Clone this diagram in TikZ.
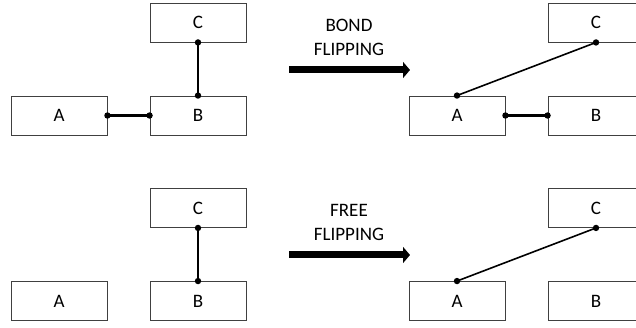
\documentclass[tikz,border=0pt]{standalone}
\usepackage{fontspec}
\setmainfont{Carlito}
\usetikzlibrary{arrows.meta}
\begin{document}
\begin{tikzpicture}[x=1pt,y=-1pt,
  box/.style={draw=black!75,line width=0.9pt,minimum width=96pt,minimum height=39pt,inner sep=0pt,font=\fontsize{19}{24}\selectfont},
  bond/.style={line width=2.2pt},
  flipbond/.style={line width=1.6pt},
  dot/.style={fill=black},
  bigarrow/.style={line width=7pt,-{Triangle[length=7pt,width=16pt]}},
  lbl/.style={align=center,font=\fontsize{19}{24}\selectfont,inner sep=0pt}]
\useasboundingbox (0,0) rectangle (636,328);
% top left
\node[box] (A1) at (59,115.5) {A};
\node[box] (B1) at (198,115.5) {B};
\node[box] (C1) at (198,22.5) {C};
% top right
\node[box] (A2) at (457,115.5) {A};
\node[box] (B2) at (596,115.5) {B};
\node[box] (C2) at (596,22.5) {C};
% bottom left
\node[box] (A3) at (59,301) {A};
\node[box] (B3) at (198,301) {B};
\node[box] (C3) at (198,208) {C};
% bottom right
\node[box] (A4) at (457,301) {A};
\node[box] (B4) at (596,301) {B};
\node[box] (C4) at (596,208) {C};
% bonds
\draw[bond] (A1.east) -- (B1.west);
\draw[bond] (B1.north) -- (C1.south);
\draw[bond] (A2.east) -- (B2.west);
\draw[flipbond] (A2.north) -- (C2.south);
\draw[bond] (B3.north) -- (C3.south);
\draw[flipbond] (A4.north) -- (C4.south);
\foreach \p in {A1.east,B1.west,B1.north,C1.south,A2.east,B2.west,A2.north,C2.south,B3.north,C3.south,A4.north,C4.south}
  \fill[dot] (\p) circle (3.2pt);
% arrows
\coordinate (t1s) at (289,70);
\coordinate (t1e) at (410,70);
\coordinate (t2s) at (289,255);
\coordinate (t2e) at (410,255);
\draw[bigarrow] (t1s) -- (t1e);
\draw[bigarrow] (t2s) -- (t2e);
\node[lbl] (L1) at (349,37) {BOND\\FLIPPING};
\node[lbl] (L2) at (349,222.5) {FREE\\FLIPPING};
\end{tikzpicture}
\end{document}
